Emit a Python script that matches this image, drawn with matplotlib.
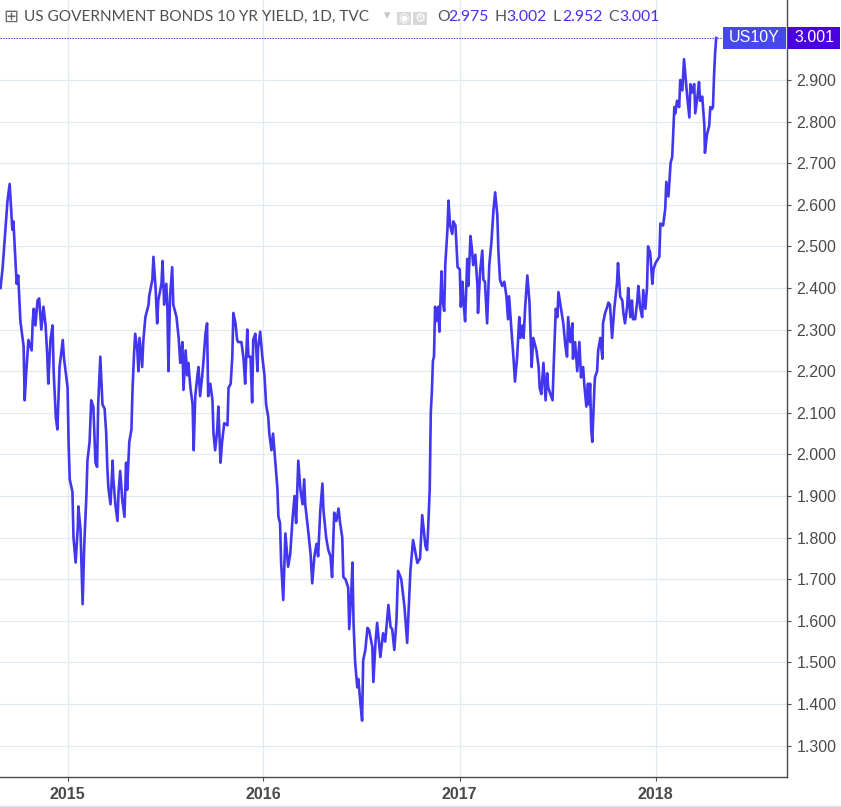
import matplotlib
matplotlib.use("Agg")
import matplotlib.pyplot as plt
from matplotlib.patches import Rectangle
import pandas as pd

# US 10Y yield, daily closes
dates = [
    '2014-08-29', '2014-09-02', '2014-09-07', '2014-09-11', '2014-09-15', '2014-09-20', '2014-09-22',
    '2014-09-28', '2014-10-01', '2014-10-05', '2014-10-11', '2014-10-13', '2014-10-16', '2014-10-20',
    '2014-10-26', '2014-10-28', '2014-10-30', '2014-11-02', '2014-11-06', '2014-11-09', '2014-11-13',
    '2014-11-17', '2014-11-21', '2014-11-24', '2014-11-26', '2014-11-30', '2014-12-04', '2014-12-06',
    '2014-12-10', '2014-12-13', '2014-12-17', '2014-12-23', '2014-12-25',
    '2015-01-01', '2015-01-03', '2015-01-05', '2015-01-10', '2015-01-12', '2015-01-16', '2015-01-20',
    '2015-01-21', '2015-01-25', '2015-01-29', '2015-02-01', '2015-02-05', '2015-02-07', '2015-02-11',
    '2015-02-14', '2015-02-18', '2015-02-22', '2015-02-25', '2015-02-27', '2015-03-03', '2015-03-07',
    '2015-03-11', '2015-03-14', '2015-03-16', '2015-03-18', '2015-03-22', '2015-03-26', '2015-03-27',
    '2015-03-31', '2015-04-04', '2015-04-06', '2015-04-09', '2015-04-13', '2015-04-17', '2015-04-20',
    '2015-04-22', '2015-04-26', '2015-04-30', '2015-05-02', '2015-05-05', '2015-05-07', '2015-05-11',
    '2015-05-13', '2015-05-15', '2015-05-20', '2015-05-22', '2015-05-26', '2015-05-30', '2015-06-01',
    '2015-06-02', '2015-06-08', '2015-06-10', '2015-06-14', '2015-06-17', '2015-06-19', '2015-06-25',
    '2015-06-27', '2015-06-30', '2015-07-04', '2015-07-06', '2015-07-08', '2015-07-11', '2015-07-15',
    '2015-07-17', '2015-07-23', '2015-07-27', '2015-07-30', '2015-08-03', '2015-08-05', '2015-08-09',
    '2015-08-12', '2015-08-14', '2015-08-18', '2015-08-22', '2015-08-24', '2015-08-27', '2015-08-31',
    '2015-09-02', '2015-09-05', '2015-09-09', '2015-09-11', '2015-09-15', '2015-09-18', '2015-09-20',
    '2015-09-24', '2015-09-28', '2015-09-30', '2015-10-03', '2015-10-07', '2015-10-09', '2015-10-13',
    '2015-10-16', '2015-10-20', '2015-10-26', '2015-10-28', '2015-11-01', '2015-11-04', '2015-11-06',
    '2015-11-10', '2015-11-13', '2015-11-15', '2015-11-21', '2015-11-25', '2015-11-28', '2015-12-02',
    '2015-12-04', '2015-12-08', '2015-12-11', '2015-12-13', '2015-12-17', '2015-12-21', '2015-12-22',
    '2015-12-26', '2015-12-30',
    '2016-01-03', '2016-01-06', '2016-01-10', '2016-01-12', '2016-01-16', '2016-01-19', '2016-01-23',
    '2016-01-27', '2016-01-29', '2016-02-01', '2016-02-03', '2016-02-07', '2016-02-11', '2016-02-15',
    '2016-02-16', '2016-02-20', '2016-02-24', '2016-02-28', '2016-03-02', '2016-03-06', '2016-03-10',
    '2016-03-14', '2016-03-17', '2016-03-19', '2016-03-25', '2016-03-29', '2016-04-01', '2016-04-05',
    '2016-04-09', '2016-04-12', '2016-04-16', '2016-04-20', '2016-04-22', '2016-04-27', '2016-05-01',
    '2016-05-05', '2016-05-08', '2016-05-12', '2016-05-16', '2016-05-20', '2016-05-23', '2016-05-27',
    '2016-05-29', '2016-06-02', '2016-06-07', '2016-06-09', '2016-06-13', '2016-06-15', '2016-06-17',
    '2016-06-20', '2016-06-24', '2016-06-26', '2016-06-30', '2016-07-03', '2016-07-05', '2016-07-09',
    '2016-07-13', '2016-07-16', '2016-07-22', '2016-07-24', '2016-07-28', '2016-07-31', '2016-08-06',
    '2016-08-11', '2016-08-15', '2016-08-21', '2016-08-25', '2016-08-28', '2016-09-01', '2016-09-05',
    '2016-09-08', '2016-09-14', '2016-09-20', '2016-09-25', '2016-10-01', '2016-10-06', '2016-10-14',
    '2016-10-19', '2016-10-23', '2016-10-29', '2016-11-01', '2016-11-03', '2016-11-06', '2016-11-08',
    '2016-11-10', '2016-11-12', '2016-11-14', '2016-11-16', '2016-11-18', '2016-11-22', '2016-11-24',
    '2016-11-28', '2016-11-29', '2016-12-03', '2016-12-05', '2016-12-09', '2016-12-11', '2016-12-14',
    '2016-12-18', '2016-12-20', '2016-12-24', '2016-12-28',
    '2017-01-01', '2017-01-03', '2017-01-06', '2017-01-08', '2017-01-11', '2017-01-15', '2017-01-17',
    '2017-01-21', '2017-01-24', '2017-01-26', '2017-01-30', '2017-02-03', '2017-02-04', '2017-02-08',
    '2017-02-12', '2017-02-14', '2017-02-17', '2017-02-21', '2017-02-25', '2017-03-01', '2017-03-05',
    '2017-03-08', '2017-03-12', '2017-03-14', '2017-03-17', '2017-03-21', '2017-03-25', '2017-03-29',
    '2017-04-01', '2017-04-03', '2017-04-07', '2017-04-11', '2017-04-14', '2017-04-18', '2017-04-22',
    '2017-04-24', '2017-04-28', '2017-04-30', '2017-05-03', '2017-05-07', '2017-05-11', '2017-05-15',
    '2017-05-18', '2017-05-24', '2017-05-28', '2017-05-30', '2017-06-02', '2017-06-06', '2017-06-10',
    '2017-06-13', '2017-06-15', '2017-06-23', '2017-06-25', '2017-06-29', '2017-07-02', '2017-07-04',
    '2017-07-07', '2017-07-11', '2017-07-13', '2017-07-17', '2017-07-20', '2017-07-22', '2017-07-26',
    '2017-07-30', '2017-07-31', '2017-08-04', '2017-08-08', '2017-08-12', '2017-08-15', '2017-08-19',
    '2017-08-21', '2017-08-25', '2017-08-28', '2017-08-30', '2017-09-01', '2017-09-03', '2017-09-05',
    '2017-09-09', '2017-09-10', '2017-09-14', '2017-09-16', '2017-09-20', '2017-09-24', '2017-09-25',
    '2017-09-29', '2017-10-03', '2017-10-05', '2017-10-08', '2017-10-12', '2017-10-16', '2017-10-21',
    '2017-10-23', '2017-10-27', '2017-10-31', '2017-11-02', '2017-11-05', '2017-11-09', '2017-11-11',
    '2017-11-15', '2017-11-18', '2017-11-20', '2017-11-24', '2017-11-28', '2017-11-30', '2017-12-03',
    '2017-12-07', '2017-12-09', '2017-12-13', '2017-12-16', '2017-12-18', '2017-12-22', '2017-12-26',
    '2017-12-28',
    '2018-01-01', '2018-01-08', '2018-01-10', '2018-01-15', '2018-01-19', '2018-01-21', '2018-01-25',
    '2018-01-29', '2018-02-01', '2018-02-05', '2018-02-07', '2018-02-10', '2018-02-14', '2018-02-16',
    '2018-02-20', '2018-02-23', '2018-02-27', '2018-03-01', '2018-03-05', '2018-03-07', '2018-03-10',
    '2018-03-14', '2018-03-16', '2018-03-20', '2018-03-23', '2018-03-25', '2018-03-29', '2018-04-02',
    '2018-04-03', '2018-04-07', '2018-04-11', '2018-04-13', '2018-04-16', '2018-04-18', '2018-04-20',
    '2018-04-22', '2018-04-24',
]

yields = [
    2.40, 2.45, 2.54, 2.61, 2.65, 2.54, 2.56,
    2.41, 2.43, 2.32, 2.26, 2.13, 2.20, 2.275,
    2.25, 2.32, 2.35, 2.31, 2.37, 2.375, 2.30,
    2.355, 2.31, 2.24, 2.17, 2.275, 2.31, 2.20,
    2.09, 2.06, 2.21, 2.275, 2.235,
    2.16, 2.02, 1.94, 1.91, 1.80, 1.74, 1.825,
    1.875, 1.82, 1.64, 1.78, 1.90, 1.985, 2.03,
    2.13, 2.115, 1.98, 1.97, 2.12, 2.235, 2.12,
    2.11, 2.05, 1.97, 1.92, 1.88, 1.985, 1.945,
    1.88, 1.84, 1.91, 1.96, 1.89, 1.85, 1.98,
    1.915, 2.03, 2.06, 2.155, 2.245, 2.29, 2.25,
    2.20, 2.28, 2.21, 2.27, 2.33, 2.35, 2.36,
    2.38, 2.42, 2.475, 2.40, 2.315, 2.37, 2.41,
    2.465, 2.36, 2.41, 2.35, 2.20, 2.38, 2.45,
    2.36, 2.33, 2.28, 2.22, 2.27, 2.155, 2.25,
    2.19, 2.22, 2.16, 2.12, 2.01, 2.14, 2.19,
    2.21, 2.14, 2.19, 2.22, 2.29, 2.315, 2.14,
    2.17, 2.13, 2.05, 2.01, 2.06, 2.115, 1.98,
    2.03, 2.075, 2.07, 2.16, 2.17, 2.235, 2.34,
    2.315, 2.275, 2.27, 2.27, 2.23, 2.17, 2.30,
    2.235, 2.235, 2.125, 2.275, 2.29, 2.20, 2.255,
    2.295, 2.235,
    2.19, 2.12, 2.09, 2.05, 2.01, 2.05, 1.985,
    1.92, 1.85, 1.835, 1.74, 1.65, 1.81, 1.745,
    1.73, 1.76, 1.84, 1.90, 1.835, 1.985, 1.915,
    1.88, 1.94, 1.88, 1.81, 1.76, 1.69, 1.755,
    1.785, 1.755, 1.865, 1.93, 1.865, 1.80, 1.77,
    1.755, 1.705, 1.86, 1.84, 1.87, 1.835, 1.80,
    1.705, 1.70, 1.68, 1.58, 1.675, 1.74, 1.595,
    1.50, 1.44, 1.46, 1.40, 1.36, 1.505, 1.53,
    1.583, 1.578, 1.537, 1.453, 1.55, 1.595, 1.513,
    1.57, 1.55, 1.638, 1.585, 1.58, 1.53, 1.60,
    1.72, 1.70, 1.633, 1.547, 1.72, 1.794, 1.739,
    1.75, 1.854, 1.78, 1.77, 1.82, 1.915, 2.10,
    2.15, 2.225, 2.235, 2.355, 2.32, 2.355, 2.295,
    2.44, 2.38, 2.345, 2.455, 2.54, 2.61, 2.55,
    2.53, 2.56, 2.55, 2.45,
    2.445, 2.355, 2.415, 2.365, 2.32, 2.47, 2.405,
    2.525, 2.49, 2.455, 2.48, 2.405, 2.34, 2.44,
    2.49, 2.42, 2.415, 2.315, 2.455, 2.51, 2.59,
    2.63, 2.575, 2.49, 2.42, 2.405, 2.415, 2.38,
    2.325, 2.38, 2.305, 2.235, 2.175, 2.235, 2.33,
    2.28, 2.31, 2.28, 2.355, 2.43, 2.365, 2.21,
    2.28, 2.25, 2.21, 2.16, 2.145, 2.22, 2.13,
    2.195, 2.16, 2.13, 2.21, 2.35, 2.33, 2.39,
    2.365, 2.33, 2.315, 2.26, 2.235, 2.33, 2.27,
    2.315, 2.23, 2.27, 2.20, 2.27, 2.185, 2.21,
    2.17, 2.115, 2.17, 2.12, 2.17, 2.06, 2.03,
    2.16, 2.185, 2.20, 2.25, 2.28, 2.23, 2.315,
    2.34, 2.355, 2.365, 2.36, 2.28, 2.35, 2.41,
    2.46, 2.38, 2.37, 2.34, 2.315, 2.355, 2.40,
    2.33, 2.37, 2.325, 2.325, 2.37, 2.405, 2.355,
    2.33, 2.395, 2.35, 2.40, 2.50, 2.485, 2.41,
    2.445,
    2.46, 2.475, 2.555, 2.55, 2.59, 2.655, 2.62,
    2.70, 2.715, 2.835, 2.82, 2.85, 2.835, 2.90,
    2.875, 2.95, 2.89, 2.86, 2.81, 2.89, 2.87,
    2.89, 2.82, 2.86, 2.895, 2.85, 2.86, 2.79,
    2.725, 2.77, 2.79, 2.835, 2.83, 2.835, 2.91,
    2.965, 3.001,
]

price_ticks = [1.3, 1.4, 1.5, 1.6, 1.7, 1.8, 1.9, 2.0, 2.1, 2.2, 2.3, 2.4, 2.5, 2.6, 2.7, 2.8, 2.9]
year_ticks = ['2015-01-01', '2016-01-01', '2017-01-01', '2018-01-01']
year_labels = ['2015', '2016', '2017', '2018']

title = 'US GOVERNMENT BONDS 10 YR YIELD, 1D, TVC'
ohlc_names = ['O', 'H', 'L', 'C']
ohlc_values = ['2.975', '3.002', '2.952', '3.001']
symbol = 'US10Y'

W, H = 841, 807
LINE = '#4336ef'
GRID = '#e1eaf0'
AXIS = '#4a4a4a'
TEXT = '#4a4a4a'

x = pd.to_datetime(dates)

fig = plt.figure(figsize=(W / 100, H / 100), dpi=100)
ax = fig.add_axes([0, 30 / H, 787 / W, 777 / H])

ax.plot(x, yields, color=LINE, linewidth=1.9, solid_joinstyle='round', zorder=3)

ax.set_xlim(pd.Timestamp('2014-08-28'), pd.Timestamp('2018-09-03'))
ax.set_ylim(1.2245, 3.0923)

# axes and grid
for side in ['left', 'top']:
    ax.spines[side].set_visible(False)
for side in ['right', 'bottom']:
    ax.spines[side].set_color(AXIS)
    ax.spines[side].set_linewidth(1.0)

ax.yaxis.tick_right()
ax.set_yticks(price_ticks)
ax.set_yticklabels(['%.3f' % v for v in price_ticks])
ax.set_xticks(pd.to_datetime(year_ticks))
ax.set_xticklabels(year_labels)
ax.tick_params(axis='y', length=3, width=0.8, color=AXIS, pad=4,
               labelsize=11.5, labelcolor=TEXT)
ax.tick_params(axis='x', length=3, width=0.8, color=AXIS, pad=4,
               labelsize=11.5, labelcolor=TEXT)
for lab in ax.get_xticklabels():
    lab.set_fontweight('bold')
    lab.set_fontfamily('Liberation Sans')
for lab in ax.get_yticklabels():
    lab.set_fontfamily('Liberation Sans')
ax.grid(True, color=GRID, linewidth=0.9, zorder=0)
ax.set_axisbelow(True)

# last price marker line and labels
last = yields[-1]
ax.axhline(last, xmin=0, xmax=722 / 787, color=LINE, linewidth=0.8,
           linestyle=(0, (1.2, 1.2)), zorder=2)
ax.set_yticks([last], minor=True)
ax.tick_params(axis='y', which='minor', length=3, width=0.8, color=AXIS)

fig.canvas.draw()
_, py = ax.transData.transform((0, last))
fy = py / H
bh = 22 / H
fig.patches.append(Rectangle((723 / W, fy - bh / 2), 63 / W, bh, transform=fig.transFigure,
                             facecolor='#4747ee', edgecolor='none', zorder=5))
fig.patches.append(Rectangle((788 / W, fy - bh / 2), 52 / W, bh, transform=fig.transFigure,
                             facecolor='#4b00e2', edgecolor='none', zorder=5))
fig.text(754.5 / W, fy, symbol, color='white', fontsize=11.5, family='Liberation Sans',
         ha='center', va='center', zorder=6)
fig.text(814 / W, fy, '%.3f' % last, color='white', fontsize=11.5, family='Liberation Sans',
         ha='center', va='center', zorder=6)

# header
hy = 1 - 17 / H
fig.text(3 / W, hy, '\u229e', color='#666666', fontsize=13, family='DejaVu Sans',
         ha='left', va='center')
fig.text(24 / W, hy, title, color='#505050', fontsize=11.1, family='Lato',
         ha='left', va='center')
fig.text(384 / W, hy + 1 / H, '\u25be', color='#c4c4c4', fontsize=9, family='DejaVu Sans',
         ha='left', va='center')
for bx, glyph in [(397, '\u25c9'), (413, '\u2699')]:
    fig.patches.append(Rectangle((bx / W, 1 - 25 / H), 14 / W, 13 / H, transform=fig.transFigure,
                                 facecolor='#d8d8d8', edgecolor='none'))
    fig.text((bx + 7) / W, 1 - 18.5 / H, glyph, color='white', fontsize=9, family='DejaVu Sans',
             ha='center', va='center')

name_x = [437, 495, 553, 608]
for nx, name, val in zip(name_x, ohlc_names, ohlc_values):
    fig.text(nx / W, hy, name, color='#555555', fontsize=11.3, family='Lato',
             ha='left', va='center')
    fig.text((nx + (11 if name in 'OHC' else 9)) / W, hy, val, color='#4f2cf0', fontsize=11.3,
             family='Lato', ha='left', va='center')

# thin bottom border
fig.add_artist(plt.Line2D([0, 1], [1.5 / H, 1.5 / H], transform=fig.transFigure,
                          color='#e0e3eb', linewidth=1))

fig.savefig('out.png', dpi=100)
